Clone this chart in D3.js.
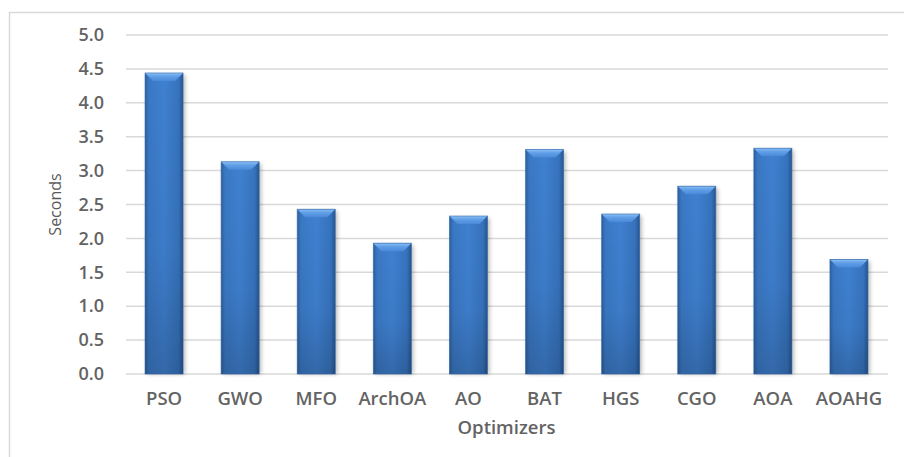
<!DOCTYPE html>
<html>
<head>
<meta charset="utf-8">
<script src="https://cdn.jsdelivr.net/npm/d3@7"></script>
<style>
  html, body { margin: 0; padding: 0; background: #ffffff; }
  svg { display: block; }
</style>
</head>
<body>
<svg id="chart" width="904" height="457"></svg>
<script>
// Run times per optimizer (seconds)
const categories = ["PSO", "GWO", "MFO", "ArchOA", "AO", "BAT", "HGS", "CGO", "AOA", "AOAHG"];
const seconds = [4.44, 3.13, 2.43, 1.93, 2.33, 3.31, 2.36, 2.77, 3.33, 1.69];
const yTicks = [0, 0.5, 1, 1.5, 2, 2.5, 3, 3.5, 4, 4.5, 5];
const xTitle = "Optimizers";
const yTitle = "Seconds";

const svg = d3.select("#chart");
const W = 904, H = 457;
const margin = { left: 126, right: 17, top: 35, bottom: 83 };
const textColor = "#636363";
const gridColor = "#d9d9d9";
const font = "'Open Sans', 'DejaVu Sans', sans-serif";

// Chart frame
svg.append("rect")
  .attr("x", 9.5).attr("y", 12.5)
  .attr("width", W).attr("height", H)
  .attr("fill", "#ffffff")
  .attr("stroke", gridColor).attr("stroke-width", 1.5);

const x = d3.scaleBand()
  .domain(categories)
  .range([margin.left, W - margin.right])
  .paddingInner(0.5).paddingOuter(0.25);

const y = d3.scaleLinear()
  .domain([0, 5])
  .range([H - margin.bottom, margin.top]);

// Gradients for the bevelled bars
const defs = svg.append("defs");
const side = defs.append("linearGradient").attr("id", "barSide")
  .attr("x1", "0").attr("x2", "1").attr("y1", "0").attr("y2", "0");
[[0, "#2c5f9e"], [0.1, "#3a78c4"], [0.5, "#3f80d0"], [0.88, "#3673bd"], [1, "#27558f"]]
  .forEach(([o, c]) => side.append("stop").attr("offset", o).attr("stop-color", c));

const shade = defs.append("linearGradient").attr("id", "barShade")
  .attr("x1", "0").attr("x2", "0").attr("y1", "0").attr("y2", "1");
[[0, "#000", 0], [0.6, "#000", 0.04], [1, "#000", 0.18]]
  .forEach(([o, c, a]) => shade.append("stop").attr("offset", o).attr("stop-color", c).attr("stop-opacity", a));

const cap = defs.append("linearGradient").attr("id", "barCap")
  .attr("x1", "0").attr("x2", "0").attr("y1", "0").attr("y2", "1");
[[0, "#8cc0f5"], [0.4, "#62a0e8"], [1, "#4a89d8"]]
  .forEach(([o, c]) => cap.append("stop").attr("offset", o).attr("stop-color", c));

const blur = defs.append("filter").attr("id", "barShadow")
  .attr("x", "-20%").attr("y", "-10%").attr("width", "150%").attr("height", "130%");
blur.append("feGaussianBlur").attr("stdDeviation", 2);

// Horizontal gridlines
svg.append("g")
  .selectAll("line")
  .data(yTicks)
  .join("line")
  .attr("x1", margin.left).attr("x2", W - margin.right + 1)
  .attr("y1", d => y(d)).attr("y2", d => y(d))
  .attr("stroke", gridColor).attr("stroke-width", 1.5);

// Y-axis tick labels
const yAxis = d3.axisLeft(y).tickValues(yTicks).tickFormat(d3.format(".1f")).tickSize(0).tickPadding(22);
svg.append("g")
  .attr("transform", `translate(${margin.left},0)`)
  .call(yAxis)
  .call(g => g.select(".domain").remove())
  .selectAll("text")
  .attr("fill", textColor)
  .style("font-family", font)
  .style("font-weight", 600)
  .style("font-size", "18px");

// Bars
const bw = x.bandwidth();
const bevel = 8;
const bars = svg.append("g").selectAll("g")
  .data(categories.map((c, i) => ({ c, v: seconds[i] })))
  .join("g");

bars.append("rect")
  .attr("x", d => x(d.c) + 2).attr("y", d => y(d.v) + 2)
  .attr("width", bw).attr("height", d => y(0) - y(d.v) - 2)
  .attr("fill", "#000").attr("opacity", 0.28)
  .attr("filter", "url(#barShadow)");

bars.append("rect")
  .attr("x", d => x(d.c)).attr("y", d => y(d.v))
  .attr("width", bw).attr("height", d => y(0) - y(d.v))
  .attr("fill", "url(#barSide)");

bars.append("rect")
  .attr("x", d => x(d.c)).attr("y", d => y(d.v))
  .attr("width", bw).attr("height", d => y(0) - y(d.v))
  .attr("fill", "url(#barShade)");

bars.append("path")
  .attr("d", d => {
    const x0 = x(d.c), y0 = y(d.v);
    return `M${x0},${y0}L${x0 + bw},${y0}L${x0 + bw - bevel},${y0 + bevel}L${x0 + bevel},${y0 + bevel}Z`;
  })
  .attr("fill", "url(#barCap)");

bars.append("rect")
  .attr("x", d => x(d.c)).attr("y", d => y(d.v))
  .attr("width", bw).attr("height", d => y(0) - y(d.v))
  .attr("fill", "none").attr("stroke", "#2f66aa").attr("stroke-width", 0.8).attr("stroke-opacity", 0.7);

// X-axis category labels
const xAxis = d3.axisBottom(x).tickSize(0).tickPadding(18);
svg.append("g")
  .attr("transform", `translate(0,${y(0)})`)
  .call(xAxis)
  .call(g => g.select(".domain").remove())
  .selectAll("text")
  .attr("fill", textColor)
  .style("font-family", font)
  .style("font-weight", 600)
  .style("font-size", "18.5px");

// Axis titles
svg.append("text")
  .attr("x", (margin.left + W - margin.right) / 2).attr("y", 434)
  .attr("text-anchor", "middle")
  .attr("fill", textColor)
  .style("font-family", font).style("font-weight", 600).style("font-size", "18.5px")
  .text(xTitle);

svg.append("text")
  .attr("transform", `translate(61,${(y(0) + y(5)) / 2}) rotate(-90)`)
  .attr("text-anchor", "middle")
  .attr("fill", "#595959")
  .style("font-family", font).style("font-size", "16px")
  .text(yTitle);
</script>
</body>
</html>
